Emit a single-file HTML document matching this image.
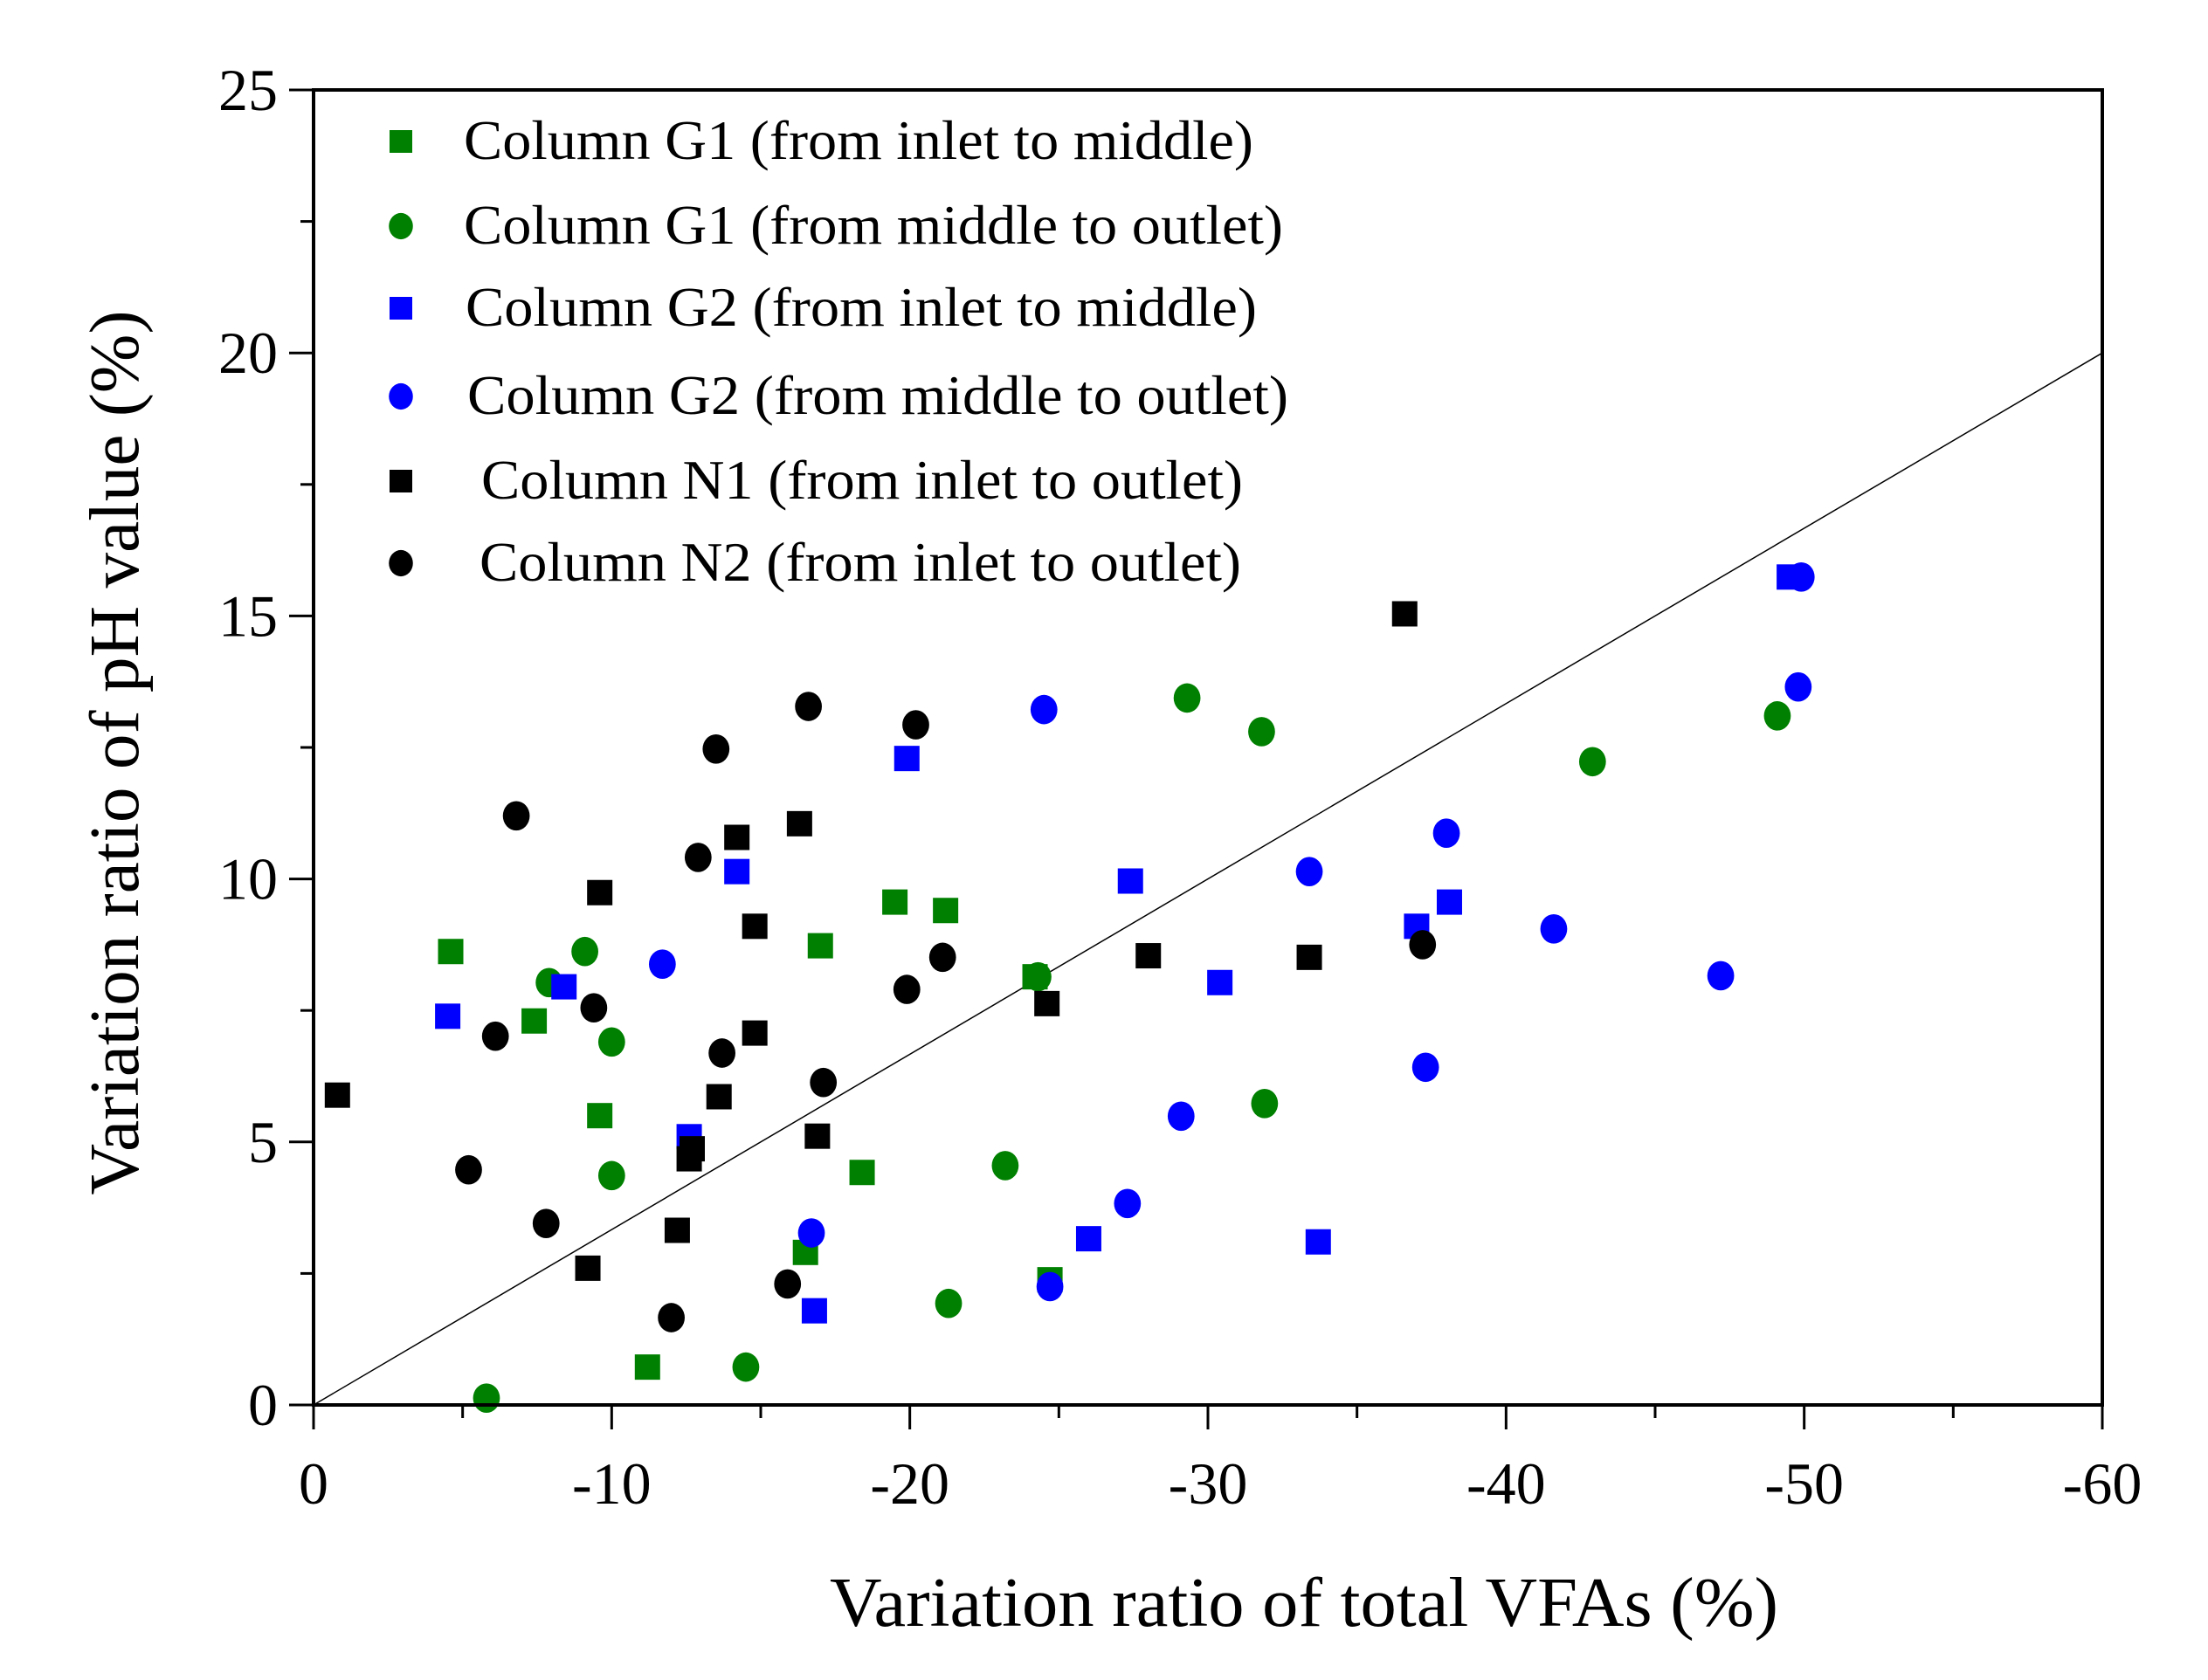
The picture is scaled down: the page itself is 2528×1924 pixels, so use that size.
<!DOCTYPE html>
<html><head><meta charset="utf-8"><style>
html,body{margin:0;padding:0;background:#fff;}
svg{display:block;}
text{font-family:"Liberation Serif",serif;fill:#000;}
</style></head><body>
<svg id="chart" width="2528" height="1924" viewBox="0 0 2528 1924" xmlns="http://www.w3.org/2000/svg">
<g id="marks"></g>
<g id="axes"></g>
<g id="legend"></g>
</svg>
<script>
const xTicks=[0,-10,-20,-30,-40,-50,-60];
const yTicks=[0,5,10,15,20,25];
const g1InletX=[-4.6,-7.4,-9.6,-11.2,-16.5,-17.0,-18.4,-19.5,-21.2,-24.2,-24.7];
const g1InletY=[8.62,7.3,5.5,0.72,2.9,8.73,4.42,9.56,9.4,8.14,2.38];
const g1MidX=[-5.8,-7.9,-9.1,-10.0,-10.0,-14.5,-21.3,-23.2,-24.3,-29.3,-31.8,-31.9,-42.9,-49.1];
const g1MidY=[0.13,8.03,8.62,6.9,4.36,0.72,1.93,4.55,8.14,13.44,12.8,5.73,12.23,13.1];
const g2InletX=[-4.5,-8.4,-12.6,-14.2,-16.8,-19.9,-26.0,-27.4,-30.4,-33.7,-37.0,-38.1,-49.5];
const g2InletY=[7.39,7.95,5.1,10.14,1.79,12.29,3.16,9.96,8.03,3.1,9.1,9.56,15.74];
const g2MidX=[-11.7,-16.7,-24.5,-24.7,-27.3,-29.1,-33.4,-37.3,-38.0,-41.6,-47.2,-49.8,-49.9];
const g2MidY=[8.38,3.27,13.22,2.25,3.83,5.49,10.14,6.42,10.87,9.05,8.16,13.65,15.74];
const n1X=[-0.8,-9.2,-9.6,-12.2,-12.6,-12.7,-13.6,-14.2,-14.8,-14.8,-16.3,-16.9,-24.6,-28.0,-33.4,-36.6];
const n1Y=[5.89,2.6,9.74,3.32,4.68,4.87,5.86,10.79,9.1,7.07,11.05,5.11,7.63,8.54,8.51,15.04];
const n2X=[-5.2,-6.1,-6.8,-7.8,-9.4,-12.0,-12.9,-13.5,-13.7,-15.9,-16.6,-17.1,-19.9,-20.2,-21.1,-37.2];
const n2Y=[4.47,7.01,11.2,3.45,7.55,1.66,10.41,12.47,6.69,2.3,13.28,6.13,7.9,12.93,8.51,8.75];
const lineX=[0,-60];
const lineY=[0,20];
const legendLabels=["Column G1 (from inlet to middle)","Column G1 (from middle to outlet)","Column G2 (from inlet to middle)","Column G2 (from middle to outlet)","Column N1 (from inlet to outlet)","Column N2 (from inlet to outlet)"];

const L=359,R=2407,T=103,B=1609;
const sx=v=>L+(v/-60)*(R-L);
const sy=v=>B-(v/25)*(B-T);
const NS="http://www.w3.org/2000/svg";
function mk(tag,attrs,parent){const e=document.createElementNS(NS,tag);for(const k in attrs)e.setAttribute(k,attrs[k]);parent.appendChild(e);return e;}
const marks=document.getElementById('marks'),axes=document.getElementById('axes'),legend=document.getElementById('legend');

const fit=mk('line',{x1:sx(lineX[0]),y1:sy(lineY[0]),x2:sx(lineX[1]),y2:sy(lineY[1]),stroke:'#000','stroke-width':1.5},marks);



const series=[
 {x:g1InletX,y:g1InletY,c:'#008000',s:'sq',n:'g1-inlet-middle'},
 {x:g1MidX,y:g1MidY,c:'#008000',s:'ci',n:'g1-middle-outlet'},
 {x:g2InletX,y:g2InletY,c:'#0000ff',s:'sq',n:'g2-inlet-middle'},
 {x:g2MidX,y:g2MidY,c:'#0000ff',s:'ci',n:'g2-middle-outlet'},
 {x:n1X,y:n1Y,c:'#000',s:'sq',n:'n1-inlet-outlet'},
 {x:n2X,y:n2Y,c:'#000',s:'ci',n:'n2-inlet-outlet'}];
function marker(s,cx,cy,c,size,parent){
 if(s==='sq')return mk('rect',{x:cx-size/2,y:cy-size/2,width:size,height:size,fill:c},parent);
 return mk('ellipse',{cx:cx,cy:cy,rx:size*0.53,ry:size*0.58,fill:c},parent);
}
series.forEach(se=>{
 se.x.forEach((v,i)=>{
  const m=marker(se.s,sx(v),sy(se.y[i]),se.c,29,marks);
  
  
 });
});

const frame=mk('rect',{x:L,y:T,width:R-L,height:B-T,fill:'none',stroke:'#000','stroke-width':4},axes);


for(let v=0;v>=-60;v-=5){
 const major=v%10===0;
 const t=mk('line',{x1:sx(v),y1:B,x2:sx(v),y2:B+(major?28:15),stroke:'#000','stroke-width':3},axes);
 
 
}
xTicks.forEach(v=>{
 const t=mk('text',{x:sx(v),y:1722,'text-anchor':'middle','font-size':68},axes);
 t.textContent=String(v);
 
 
});
for(let v=0;v<=25;v+=2.5){
 const major=v%5===0;
 const t=mk('line',{x1:L,y1:sy(v),x2:L-(major?28:15),y2:sy(v),stroke:'#000','stroke-width':3},axes);
 
 
}
yTicks.forEach(v=>{
 const t=mk('text',{x:318,y:sy(v)+23,'text-anchor':'end','font-size':68},axes);
 t.textContent=String(v);
 
 
});
const xt=mk('text',{x:950,y:1862,'font-size':80,textLength:1086,lengthAdjust:'spacingAndGlyphs'},axes);
xt.textContent='Variation ratio of total VFAs (%)';


const yt=mk('text',{x:0,y:0,'font-size':80,'text-anchor':'middle',textLength:1013,lengthAdjust:'spacingAndGlyphs',transform:'translate(158,862) rotate(-90)'},axes);
yt.textContent='Variation ratio of pH value (%)';



const rowsY=[162,259,353,454,551,645];
const textX=[531,531,533,535,551,549];
const textW=[904,938,906,940,872,872];
series.forEach((se,i)=>{
 const m=marker(se.s,459,rowsY[i],se.c,26,legend);
 
 
 const t=mk('text',{x:textX[i],y:rowsY[i]+20,'font-size':64,textLength:textW[i],lengthAdjust:'spacingAndGlyphs'},legend);
 t.textContent=legendLabels[i];
 
 
});
</script>
</body></html>
